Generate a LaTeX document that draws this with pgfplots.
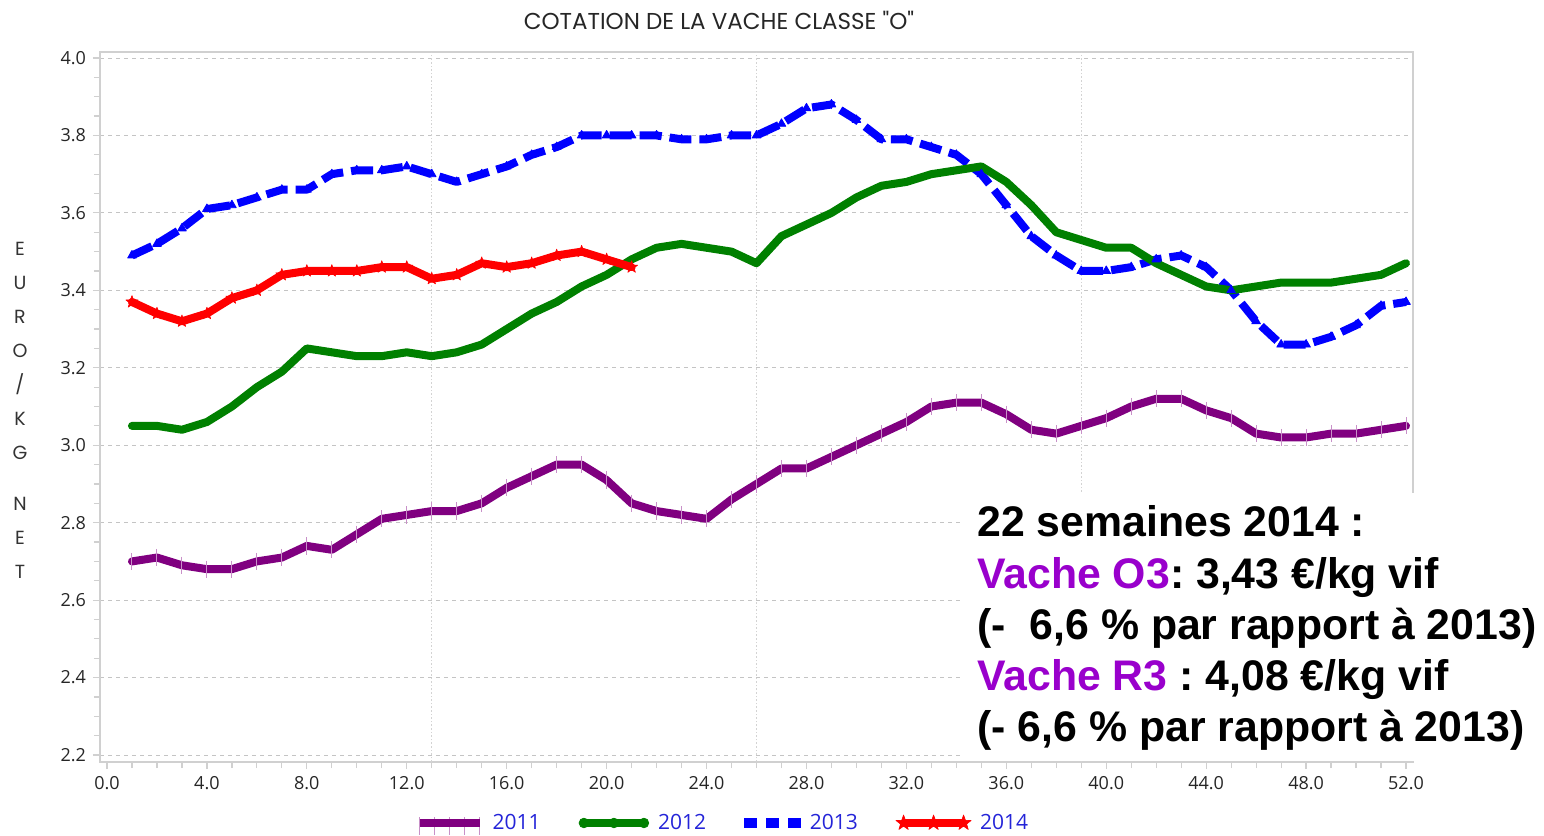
\documentclass[border=0pt]{standalone}
\usepackage{fontspec}
\setmainfont{Open Sans}
\newfontfamily\titlefont{Poppins}
\newfontfamily\boxfont{Liberation Sans}
\usepackage{pgfplots}
\pgfplotsset{compat=1.18}
\usepackage{pgfplotstable}
\frenchspacing

\definecolor{c2011}{HTML}{800080}
\definecolor{c2011m}{HTML}{C890C8}
\definecolor{c2012}{HTML}{008000}
\definecolor{c2013}{HTML}{0000FF}
\definecolor{c2014}{HTML}{FF0000}
\definecolor{axgray}{HTML}{D0D0D0}
\definecolor{gridgray}{HTML}{C4C4C4}
\definecolor{legblue}{HTML}{2424D8}
\definecolor{vio}{HTML}{9900CC}

\pgfdeclareplotmark{fstar}{%
  \pgfpathmoveto{\pgfpointpolar{90}{\pgfplotmarksize}}%
  \pgfpathlineto{\pgfpointpolar{126}{0.4\pgfplotmarksize}}%
  \pgfpathlineto{\pgfpointpolar{162}{\pgfplotmarksize}}%
  \pgfpathlineto{\pgfpointpolar{198}{0.4\pgfplotmarksize}}%
  \pgfpathlineto{\pgfpointpolar{234}{\pgfplotmarksize}}%
  \pgfpathlineto{\pgfpointpolar{270}{0.4\pgfplotmarksize}}%
  \pgfpathlineto{\pgfpointpolar{306}{\pgfplotmarksize}}%
  \pgfpathlineto{\pgfpointpolar{342}{0.4\pgfplotmarksize}}%
  \pgfpathlineto{\pgfpointpolar{18}{\pgfplotmarksize}}%
  \pgfpathlineto{\pgfpointpolar{54}{0.4\pgfplotmarksize}}%
  \pgfpathclose
  \pgfusepathqfillstroke
}

\pgfplotstableread{
w v
1 2.70
2 2.71
3 2.69
4 2.68
5 2.68
6 2.70
7 2.71
8 2.74
9 2.73
10 2.77
11 2.81
12 2.82
13 2.83
14 2.83
15 2.85
16 2.89
17 2.92
18 2.95
19 2.95
20 2.91
21 2.85
22 2.83
23 2.82
24 2.81
25 2.86
26 2.90
27 2.94
28 2.94
29 2.97
30 3.00
31 3.03
32 3.06
33 3.10
34 3.11
35 3.11
36 3.08
37 3.04
38 3.03
39 3.05
40 3.07
41 3.10
42 3.12
43 3.12
44 3.09
45 3.07
46 3.03
47 3.02
48 3.02
49 3.03
50 3.03
51 3.04
52 3.05
}\dA

\pgfplotstableread{
w v
1 3.05
2 3.05
3 3.04
4 3.06
5 3.10
6 3.15
7 3.19
8 3.25
9 3.24
10 3.23
11 3.23
12 3.24
13 3.23
14 3.24
15 3.26
16 3.30
17 3.34
18 3.37
19 3.41
20 3.44
21 3.48
22 3.51
23 3.52
24 3.51
25 3.50
26 3.47
27 3.54
28 3.57
29 3.60
30 3.64
31 3.67
32 3.68
33 3.70
34 3.71
35 3.72
36 3.68
37 3.62
38 3.55
39 3.53
40 3.51
41 3.51
42 3.47
43 3.44
44 3.41
45 3.40
46 3.41
47 3.42
48 3.42
49 3.42
50 3.43
51 3.44
52 3.47
}\dB

\pgfplotstableread{
w v
1 3.49
2 3.52
3 3.56
4 3.61
5 3.62
6 3.64
7 3.66
8 3.66
9 3.70
10 3.71
11 3.71
12 3.72
13 3.70
14 3.68
15 3.70
16 3.72
17 3.75
18 3.77
19 3.80
20 3.80
21 3.80
22 3.80
23 3.79
24 3.79
25 3.80
26 3.80
27 3.83
28 3.87
29 3.88
30 3.84
31 3.79
32 3.79
33 3.77
34 3.75
35 3.70
36 3.62
37 3.54
38 3.49
39 3.45
40 3.45
41 3.46
42 3.48
43 3.49
44 3.46
45 3.40
46 3.32
47 3.26
48 3.26
49 3.28
50 3.31
51 3.36
52 3.37
}\dC

\pgfplotstableread{
w v
1 3.37
2 3.34
3 3.32
4 3.34
5 3.38
6 3.40
7 3.44
8 3.45
9 3.45
10 3.45
11 3.46
12 3.46
13 3.43
14 3.44
15 3.47
16 3.46
17 3.47
18 3.49
19 3.50
20 3.48
21 3.46
}\dD

\pgfplotsset{
  s2012/.style={c2012, line width=4pt, line join=round, line cap=round, mark=none},
  s2013/.style={c2013, line width=4pt, line join=round, dash pattern=on 11pt off 4pt, mark=triangle*, mark size=2.5pt, mark options={solid, line width=0.4pt}},
  s2014/.style={c2014, line width=4pt, line join=round, line cap=round, mark=fstar, mark size=3.2pt, mark options={solid, line width=0.3pt}},
}

\begin{document}
\begin{tikzpicture}
\useasboundingbox (0,0) rectangle (772pt,418pt);
\begin{axis}[
  at={(50pt,37pt)}, anchor=south west,
  width=656.5pt, height=355pt, scale only axis,
  xmin=-0.28, xmax=52.28, ymin=2.182, ymax=4.0155,
  xtick={0,4,8,12,16,20,24,28,32,36,40,44,48,52},
  ytick={2.2,2.4,2.6,2.8,3.0,3.2,3.4,3.6,3.8,4.0},
  minor x tick num=3, minor y tick num=3,
  tick align=outside, tick pos=left,
  major tick length=3.5pt, minor tick length=3pt,
  tick style={axgray, line width=0.6pt},
  axis line style={axgray, line width=0.8pt},
  ymajorgrids,
  major grid style={gridgray, dash pattern=on 2pt off 2pt, line width=0.5pt},
  extra x ticks={13,26,39}, extra x tick labels={},
  extra x tick style={xmajorgrids=true, major tick length=0pt,
    major grid style={gridgray!75, dash pattern=on 0.8pt off 1pt, line width=0.5pt}},
  /pgf/number format/fixed, /pgf/number format/fixed zerofill,
  /pgf/number format/precision=1, /pgf/number format/assume math mode=true,
  tick label style={font=\fontsize{9}{10}\selectfont, text=black!85},
  legend columns=4,
  legend style={draw=none, fill=none, at={(0.4752,-0.0859)}, anchor=center,
    font=\fontsize{10.5}{12}\selectfont, text=legblue,
    /tikz/every odd column/.append style={column sep=2.5pt},
    /tikz/every even column/.append style={column sep=17pt}},
  legend image code/.code={\draw[#1, mark repeat=1] plot coordinates {(0pt,0pt) (15pt,0pt) (30pt,0pt)};},
]
\addplot[only marks, mark=|, mark size=4.3pt, c2011m, mark options={line width=0.5pt}, forget plot] table[x=w,y=v] {\dA};
\addplot[c2011, line width=4pt, line join=round, line cap=round, mark=none, forget plot] table[x=w,y=v] {\dA};
\addplot[s2013, forget plot] table[x=w,y=v] {\dC};
\addplot[s2012, forget plot] table[x=w,y=v] {\dB};
\addplot[s2014, forget plot] table[x=w,y=v] {\dD};

\addlegendimage{legend image code/.code={
  \foreach \xx in {0,7.5,15,22.5,30} {\draw[c2011m, line width=0.5pt] (\xx pt,-6pt) -- (\xx pt,3pt);}
  \draw[c2011, line width=4pt] (0pt,0pt) -- (30pt,0pt);}}
\addlegendentry{2011}
\addlegendimage{legend image code/.code={
  \draw[c2012, line width=4pt] (0pt,0pt) -- (30pt,0pt);
  \foreach \xx in {0,15,30} {\fill[c2012] (\xx pt,0pt) circle (2.4pt);}}}
\addlegendentry{2012}
\addlegendimage{legend image code/.code={
  \foreach \xx in {0,11,22} {\fill[c2013] (\xx pt,-2.2pt) rectangle ++(6pt,4.4pt);}}}
\addlegendentry{2013}
\addlegendimage{s2014, mark size=4pt}
\addlegendentry{2014}
\end{axis}

\node[font=\titlefont\fontsize{11.5}{13}\selectfont, text=black!85] at (359.5pt,408pt) {COTATION DE LA VACHE CLASSE "O"};
\node[font=\titlefont\fontsize{9.5}{17}\selectfont, align=center, text=black!80] at (10pt,212.75pt) {E\\U\\R\\O\\/\\K\\G\\[8.5pt]N\\E\\T};

\fill[white] (481pt,37.6pt) rectangle (772pt,171.5pt);
\begin{scope}[every node/.style={anchor=base west, inner sep=0pt, font=\boxfont\bfseries\fontsize{21.4}{25.6}\selectfont}]
\node at (488.5pt,149.5pt) {22 semaines 2014 :};
\node at (488.5pt,123.5pt) {{\color{vio}Vache O3}: 3,43 €/kg vif};
\node at (488.5pt,98pt) {(-~~6,6 \% par rapport à 2013)};
\node at (488.5pt,72.5pt) {{\color{vio}Vache R3} : 4,08 €/kg vif};
\node at (488.5pt,47pt) {(- 6,6 \% par rapport à 2013)};
\end{scope}
\end{tikzpicture}
\end{document}
